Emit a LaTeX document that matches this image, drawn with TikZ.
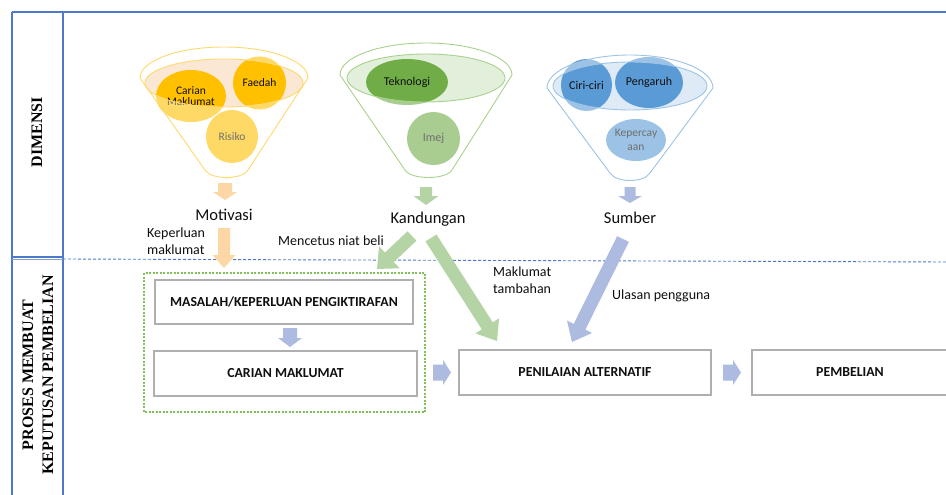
\documentclass[tikz,border=0pt]{standalone}
\usepackage{fontspec}
\setmainfont{Carlito}
\newfontfamily\serifb{Liberation Serif}
\usetikzlibrary{shapes.geometric,calc}

\definecolor{frameblue}{RGB}{78,121,200}
\definecolor{ylw}{RGB}{255,192,0}
\definecolor{ylwline}{RGB}{255,217,110}
\definecolor{ylwin}{RGB}{251,232,212}
\definecolor{grn}{RGB}{112,173,71}
\definecolor{grnline}{RGB}{169,209,142}
\definecolor{grnin}{RGB}{226,239,218}
\definecolor{blu}{RGB}{91,155,213}
\definecolor{bluline}{RGB}{157,195,230}
\definecolor{bluin}{RGB}{222,235,247}
\definecolor{arrO}{RGB}{252,215,165}
\definecolor{arrG}{RGB}{181,212,165}
\definecolor{arrB}{RGB}{174,187,224}
\definecolor{boxgray}{RGB}{175,175,175}
\definecolor{dashgreen}{RGB}{130,192,90}
\definecolor{txt}{RGB}{15,15,15}

% block arrow: from, to, shaft half width, head half width, head length, colour
\newcommand\blockarr[6]{%
  \coordinate (bahx) at ($(#2)!#5!(#1)$);
  \fill[#6] ($(#1)!#3!90:(#2)$) -- ($(bahx)!#3!90:(#2)$) -- ($(bahx)!#4!90:(#2)$)
    -- (#2) -- ($(bahx)!#4!-90:(#2)$) -- ($(bahx)!#3!-90:(#2)$) -- ($(#1)!#3!-90:(#2)$) -- cycle;
}

\begin{document}
\begin{tikzpicture}[x=1pt,y=-1pt,
  lbl/.style={font=\fontsize{14}{17}\selectfont, text=txt, inner sep=0pt},
  flbl/.style={font=\fontsize{16.5}{18}\selectfont, text=txt, inner sep=0pt},
  ball/.style={ellipse, inner sep=0pt, align=center, font=\fontsize{11.5}{11.5}\selectfont, text=txt},
  procbox/.style={draw=boxgray, line width=1.3pt, fill=white, inner sep=0pt, font=\bfseries\fontsize{13.8}{15}\selectfont, text=txt},
  sidelbl/.style={rotate=90, align=center, font=\serifb\bfseries\fontsize{16}{20}\selectfont, inner sep=0pt},
  frame/.style={frameblue, line width=1.4pt},
  funline/.style={line width=0.9pt},
  overlay/.style={white, fill opacity=0.4, even odd rule}
]
\useasboundingbox (0,0) rectangle (946,495);
\fill[white] (0,0) rectangle (946,495);

% ---- frame ----
\draw[frame] (12,12) -- (946,12);
\draw[frame] (12,12) -- (12,495);
\draw[frame] (63,12) -- (63,495);
\draw[frame] (12,257) -- (63,257);
\draw[frameblue!70, line width=0.8pt] (12,259.5) -- (63,259.5);
\draw[frameblue, line width=0.9pt, dash pattern=on 3pt off 2pt] (63,259) -- (946,262);

\node[sidelbl] (dim) at (37,132) {DIMENSI};
\node[sidelbl] (proses) at (38,375) {PROSES MEMBUAT\\KEPUTUSAN PEMBELIAN};

% ---- yellow funnel ----
\fill[ylwin] (224,83) ellipse [x radius=79, y radius=24];
\node[ball, fill=ylw, minimum width=70pt, minimum height=52pt] (cm) at (191,96) {Carian\\Maklumat};
\node[ball, fill=ylw, minimum width=53pt, minimum height=53pt] (fd) at (259.5,83) {Faedah};
\node[ball, fill=ylw, minimum width=52pt, minimum height=53pt] (rs) at (232,136.5) {Risiko};
\fill[overlay] (140,78) arc[start angle=180, end angle=360, x radius=84, y radius=31]
  -- (248,170) .. controls (242,180) and (211,180) .. (205,170) -- cycle
  (224,83) ellipse [x radius=79, y radius=24];
\draw[ylwline, funline] (140,78) arc[start angle=180, end angle=360, x radius=84, y radius=31]
  -- (248,170) .. controls (242,180) and (211,180) .. (205,170) -- cycle;
\draw[ylwline, funline] (224,83) ellipse [x radius=79, y radius=24];

% ---- green funnel ----
\fill[grnin] (426,78) ellipse [x radius=79, y radius=24];
\node[ball, fill=grn, minimum width=82pt, minimum height=46pt, font=\fontsize{12}{12}\selectfont] (tk) at (407,82) {Teknologi};
\node[ball, fill=grn, minimum width=53pt, minimum height=53pt, font=\fontsize{12}{12}\selectfont] (im) at (433.5,138.5) {Imej};
\fill[overlay] (340,75) arc[start angle=180, end angle=360, x radius=86, y radius=32]
  -- (452,170) .. controls (446,180) and (411,180) .. (405,170) -- cycle
  (426,78) ellipse [x radius=79, y radius=24];
\draw[grnline, funline] (340,75) arc[start angle=180, end angle=360, x radius=86, y radius=32]
  -- (452,170) .. controls (446,180) and (411,180) .. (405,170) -- cycle;
\draw[grnline, funline] (426,78) ellipse [x radius=79, y radius=24];

% ---- blue funnel ----
\fill[bluin] (630,86) ellipse [x radius=77, y radius=24];
\node[ball, fill=blu, minimum width=51pt, minimum height=52pt, font=\fontsize{12}{12}\selectfont] (cc) at (586.5,85) {Ciri-ciri};
\node[ball, fill=blu, minimum width=68pt, minimum height=51pt, font=\fontsize{12}{12}\selectfont] (pg) at (649,82.5) {Pengaruh};
\node[ball, fill=blu, minimum width=55pt, minimum height=42pt, font=\fontsize{11.5}{14.5}\selectfont] (kp) at (636,140) {Kepercay\\aan};
\fill[overlay] (547,88) arc[start angle=180, end angle=360, x radius=83, y radius=33]
  -- (650,173) .. controls (644,183) and (616,183) .. (610,173) -- cycle
  (630,86) ellipse [x radius=77, y radius=24];
\draw[bluline, funline] (547,88) arc[start angle=180, end angle=360, x radius=83, y radius=33]
  -- (650,173) .. controls (644,183) and (616,183) .. (610,173) -- cycle;
\draw[bluline, funline] (630,86) ellipse [x radius=77, y radius=24];

% ---- funnel outputs ----
\coordinate (ya1) at (225,183); \coordinate (ya2) at (225,200);
\coordinate (ga1) at (426,187); \coordinate (ga2) at (426,205);
\coordinate (ba1) at (630,187); \coordinate (ba2) at (630,203);
\blockarr{ya1}{ya2}{7pt}{12pt}{8pt}{arrO}
\blockarr{ga1}{ga2}{6pt}{12.5pt}{9pt}{arrG}
\blockarr{ba1}{ba2}{5.5pt}{12pt}{7pt}{arrB}

\node[flbl] (mot) at (224,215) {Motivasi};
\node[flbl] (kan) at (428,219) {Kandungan};
\node[flbl] (sum) at (630,218) {Sumber};

% ---- process boxes ----
\draw[dashgreen, line width=1.1pt, dash pattern=on 2pt off 1.5pt] (144,273) rectangle (425,412);
\node[procbox, minimum width=258pt, minimum height=44pt] (b1) at (284,302) {MASALAH/KEPERLUAN PENGIKTIRAFAN};
\node[procbox, minimum width=263pt, minimum height=45pt] (b2) at (285.5,373.5) {CARIAN MAKLUMAT};
\node[procbox, minimum width=252pt, minimum height=45pt] (b3) at (585,372.5) {PENILAIAN ALTERNATIF};
\node[procbox, minimum width=196pt, minimum height=45pt] (b4) at (850,372.5) {PEMBELIAN};

% ---- big arrows ----
\coordinate (oA) at (224,228); \coordinate (oB) at (224,268);
\coordinate (g1A) at (412,236); \coordinate (g1B) at (377,269);
\coordinate (g2A) at (431,238); \coordinate (g2B) at (497,341);
\coordinate (bbA) at (623,239); \coordinate (bbB) at (572,342);
\blockarr{oA}{oB}{6pt}{11.5pt}{13pt}{arrO}
\blockarr{g1A}{g1B}{6.5pt}{15pt}{17pt}{arrG}
\blockarr{g2A}{g2B}{6.5pt}{14pt}{18pt}{arrG}
\blockarr{bbA}{bbB}{6.5pt}{14pt}{17pt}{arrB}

% ---- small process arrows ----
\coordinate (s1A) at (290,328); \coordinate (s1B) at (290,347);
\coordinate (s2A) at (433,372.5); \coordinate (s2B) at (451,372.5);
\coordinate (s3A) at (723,372.5); \coordinate (s3B) at (741,372.5);
\blockarr{s1A}{s1B}{7pt}{12pt}{9pt}{arrB}
\blockarr{s2A}{s2B}{8pt}{12.5pt}{8pt}{arrB}
\blockarr{s3A}{s3B}{8pt}{12.5pt}{8pt}{arrB}

% ---- labels ----
\node[lbl, anchor=west, align=left] (kep) at (147,241.5) {Keperluan\\maklumat};
\node[lbl] (men) at (331,241) {Mencetus niat beli};
\node[lbl, anchor=west, align=left] (mak) at (493,280.5) {Maklumat\\tambahan};
\node[lbl, anchor=west] (ula) at (612,296) {Ulasan pengguna};
\end{tikzpicture}
\end{document}
